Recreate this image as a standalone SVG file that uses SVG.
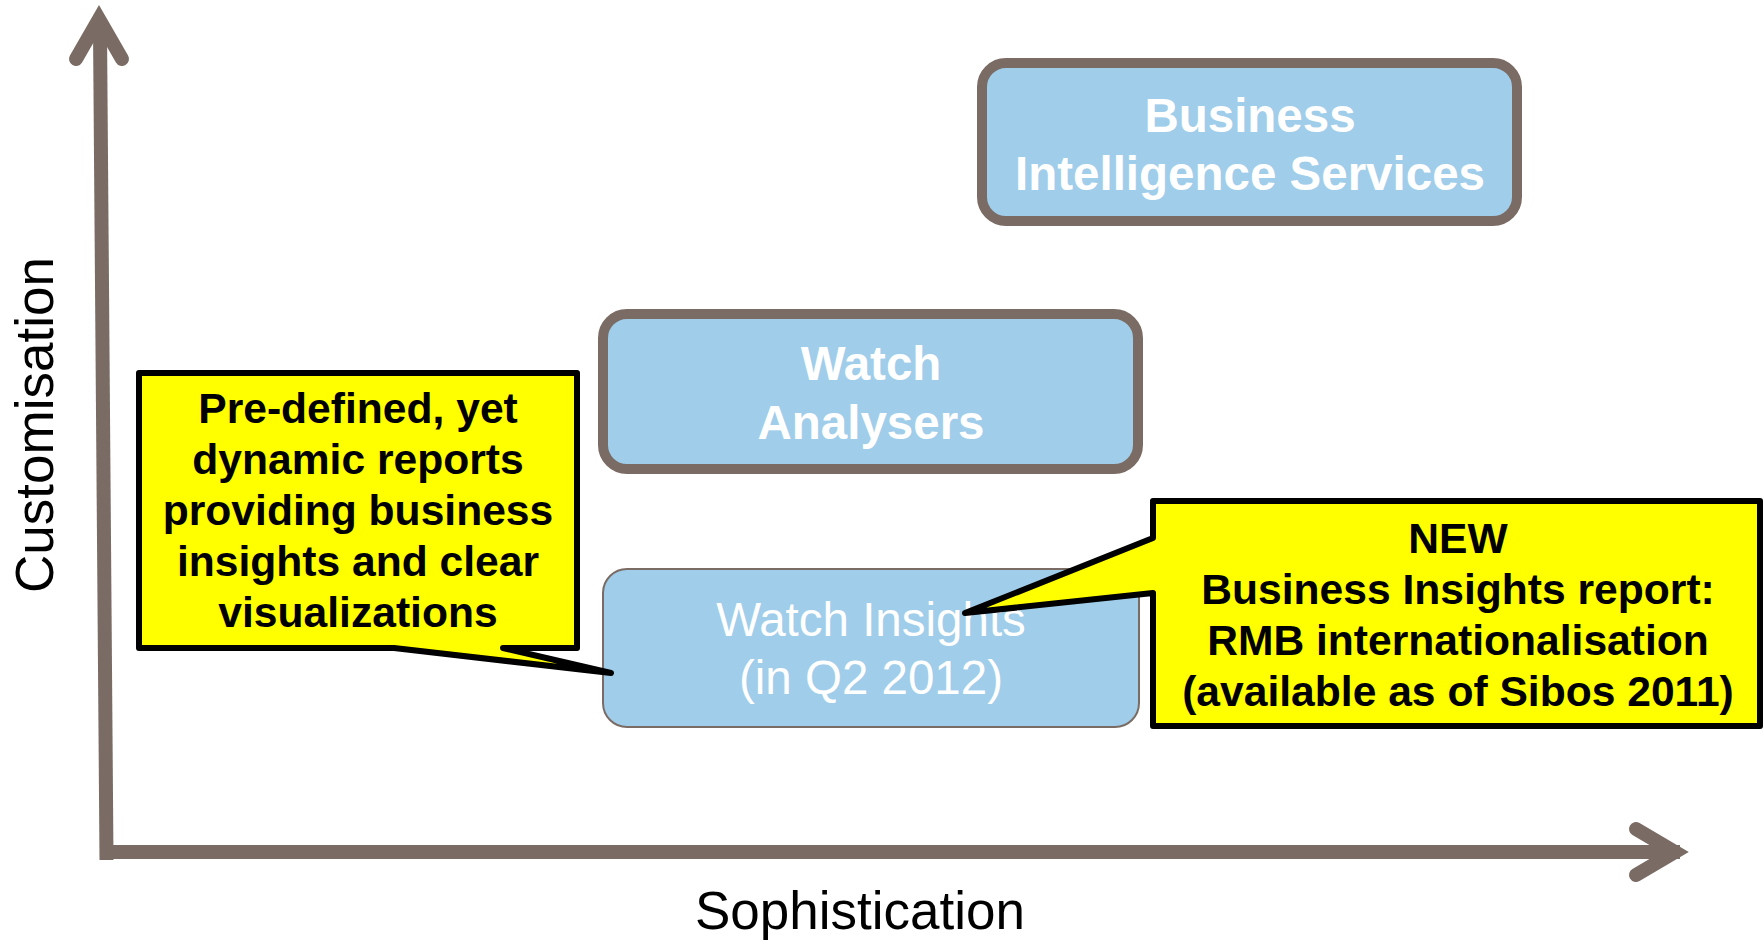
<svg xmlns="http://www.w3.org/2000/svg" width="1764" height="941" viewBox="0 0 1764 941">
<style>
.ax{fill:none;stroke:#7A6C64;stroke-width:14}
.box{fill:#A0CDEA;stroke:#7A6C64;stroke-width:10}
.box2{fill:#A0CDEA;stroke:#7A6C64;stroke-width:2}
.bt{font-family:"Liberation Sans",Arial,sans-serif;font-weight:bold;font-size:47.5px;fill:#FFFFFF;text-anchor:middle}
.rt{font-family:"Liberation Sans",Arial,sans-serif;font-size:47.5px;fill:#FFFFFF;text-anchor:middle}
.call{fill:#FFFF00;stroke:#000000;stroke-width:6;stroke-linejoin:round}
.ct{font-family:"Liberation Sans",Arial,sans-serif;font-weight:bold;font-size:42.6px;fill:#000000;text-anchor:middle}
.lab{font-family:"Liberation Sans",Arial,sans-serif;font-size:53px;fill:#000000;text-anchor:middle}
</style>
<rect width="1764" height="941" fill="#FFFFFF"/>
<g id="connectors">
  <line class="ax" x1="100" y1="30" x2="106.5" y2="860" stroke-width="13"/>
  <polyline class="ax" points="76,59 99,19 122,59" stroke-linecap="round" stroke-linejoin="miter" stroke-miterlimit="10"/>
  <line class="ax" x1="100" y1="852" x2="1680" y2="852"/>
  <polyline class="ax" points="1636,829 1675,852 1636,875" stroke-linecap="round" stroke-linejoin="miter" stroke-miterlimit="10"/>
</g>
<g id="axis-y-label">
  <text class="lab" transform="translate(53,425) rotate(-90)">Customisation</text>
</g>
<g id="axis-x-label">
  <text class="lab" x="860" y="929">Sophistication</text>
</g>
<g id="node-bi">
  <rect class="box" x="982" y="63" width="535" height="158" rx="24"/>
  <text class="bt" x="1250" y="132">Business</text>
  <text class="bt" x="1250" y="190">Intelligence Services</text>
</g>
<g id="node-analysers">
  <rect class="box" x="603" y="314" width="535" height="155" rx="24"/>
  <text class="bt" x="871" y="380">Watch</text>
  <text class="bt" x="871" y="439">Analysers</text>
</g>
<g id="node-insights">
  <rect class="box2" x="603" y="569" width="536" height="158" rx="24"/>
  <text class="rt" x="871" y="636">Watch Insights</text>
  <text class="rt" x="871" y="694">(in Q2 2012)</text>
</g>
<g id="callout-left">
  <path class="call" d="M139,373 H577 V648 H503 L611,673 L394,648 H139 Z"/>
  <text class="ct" x="358" y="423">Pre-defined, yet</text>
  <text class="ct" x="358" y="474">dynamic reports</text>
  <text class="ct" x="358" y="525">providing business</text>
  <text class="ct" x="358" y="576">insights and clear</text>
  <text class="ct" x="358" y="627">visualizations</text>
</g>
<g id="callout-right">
  <path class="call" d="M1153,501 H1760 V726 H1153 V593 L965,613 L1153,538 Z"/>
  <text class="ct" x="1458" y="553">NEW</text>
  <text class="ct" x="1458" y="604">Business Insights report:</text>
  <text class="ct" x="1458" y="655">RMB internationalisation</text>
  <text class="ct" x="1458" y="706">(available as of Sibos 2011)</text>
</g>
</svg>
